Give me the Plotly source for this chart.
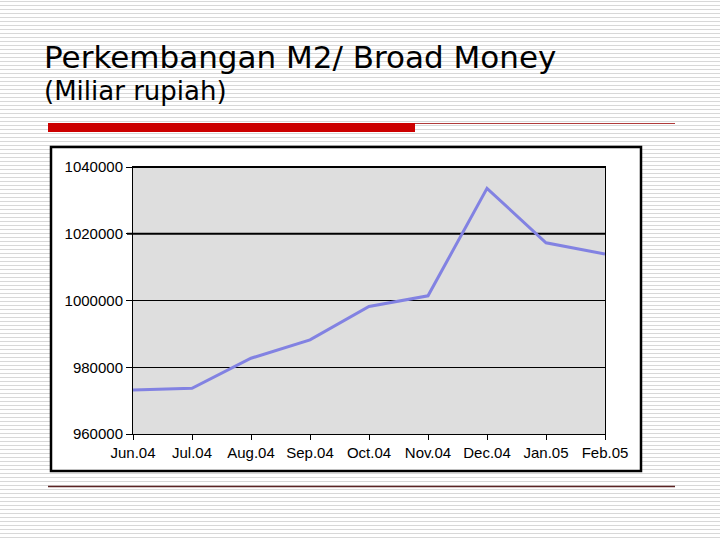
import plotly.graph_objects as go

# ---- data ----
months = ["Jun.04", "Jul.04", "Aug.04", "Sep.04", "Oct.04", "Nov.04", "Dec.04", "Jan.05", "Feb.05"]
m2_values = [973200, 973700, 982700, 988200, 998200, 1001400, 1033600, 1017300, 1013900]
y_ticks = [960000, 980000, 1000000, 1020000, 1040000]
title_text = "Perkembangan M2/ Broad Money"
subtitle_text = "(Miliar rupiah)"

# ---- layout geometry (pixels) ----
W, H = 720, 540
L, R, T, B = 133, 605, 167, 434
PW, PH = R - L, B - T


def px(x):
    return (x - L) / PW


def py(y):
    return (B - y) / PH


shapes = []
# striped slide background
for yy in range(1, H, 4):
    shapes.append(dict(type="line", xref="paper", yref="paper",
                       x0=px(0), x1=px(W), y0=py(yy + 0.5), y1=py(yy + 0.5),
                       line=dict(color="#D8D8D8", width=1), layer="below"))
# white chart box with black border
shapes.append(dict(type="rect", xref="paper", yref="paper",
                   x0=px(51), x1=px(641), y0=py(471), y1=py(147),
                   fillcolor="white", line=dict(color="black", width=2.5), layer="below"))
# grey plot area
shapes.append(dict(type="rect", xref="paper", yref="paper",
                   x0=0, x1=1, y0=0, y1=1,
                   fillcolor="#DEDEDE", line=dict(width=0), layer="below"))
# thicker upper grid lines
for v in y_ticks[-2:]:
    shapes.append(dict(type="line", xref="paper", yref="y",
                       x0=px(127), x1=1, y0=v, y1=v,
                       line=dict(color="black", width=2.2), layer="below"))
# red header bar and thin rule
shapes.append(dict(type="rect", xref="paper", yref="paper",
                   x0=px(48), x1=px(415), y0=py(132), y1=py(123),
                   fillcolor="#CC0000", line=dict(width=0), layer="above"))
shapes.append(dict(type="line", xref="paper", yref="paper",
                   x0=px(415), x1=px(675), y0=py(123.5), y1=py(123.5),
                   line=dict(color="#B03A3A", width=1), layer="above"))
# bottom rule
shapes.append(dict(type="line", xref="paper", yref="paper",
                   x0=px(48), x1=px(675), y0=py(486.5), y1=py(486.5),
                   line=dict(color="#5C2424", width=1.5), layer="above"))

fig = go.Figure()
fig.add_trace(go.Scatter(
    x=months, y=m2_values, mode="lines",
    line=dict(color="#8282E2", width=3),
    hoverinfo="x+y", showlegend=False,
))

fig.update_layout(
    width=W, height=H,
    margin=dict(l=L, r=W - R, t=T, b=H - B, pad=0),
    paper_bgcolor="white",
    plot_bgcolor="rgba(0,0,0,0)",
    shapes=shapes,
    font=dict(family="Liberation Sans, Arial, sans-serif", color="black"),
    annotations=[
        dict(text=title_text, xref="paper", yref="paper",
             x=px(42), y=py(57), xanchor="left", yanchor="middle",
             showarrow=False,
             font=dict(family="DejaVu Sans", size=31, color="black")),
        dict(text=subtitle_text, xref="paper", yref="paper",
             x=px(42), y=py(91), xanchor="left", yanchor="middle",
             showarrow=False,
             font=dict(family="DejaVu Sans", size=26, color="black")),
    ],
)

fig.update_xaxes(
    type="category", range=[0, len(months) - 1],
    showgrid=False, zeroline=False,
    showline=True, linecolor="black", linewidth=1, mirror=True,
    ticks="outside", ticklen=5, tickcolor="black", tickwidth=1,
    tickfont=dict(size=15, family="Liberation Sans, Arial"),
)
fig.update_yaxes(
    range=[y_ticks[0], y_ticks[-1]], tickvals=y_ticks,
    ticktext=[str(v) for v in y_ticks],
    showgrid=True, gridcolor="black", gridwidth=1, zeroline=False,
    showline=True, linecolor="black", linewidth=1, mirror=True,
    ticks="outside", ticklen=6, tickcolor="black", tickwidth=1,
    tickfont=dict(size=15, family="Liberation Sans, Arial"),
)

fig.write_html(
    "out.html",
    config={"displayModeBar": False},
    post_script="document.body.style.margin='0';document.body.style.overflow='hidden';",
)
